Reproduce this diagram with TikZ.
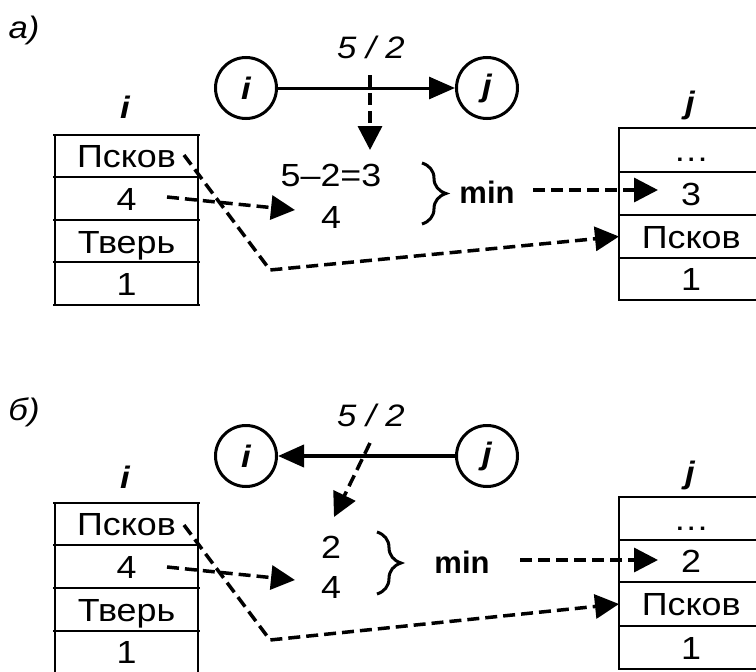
\documentclass[tikz,border=0pt]{standalone}
\usepackage{fontspec}
\setmainfont[FakeStretch=1.12]{Liberation Sans}
\newfontfamily\plainfont{Liberation Sans}
\usetikzlibrary{arrows.meta,decorations.pathreplacing,calc}
\begin{document}
\begin{tikzpicture}[x=1pt,y=-1pt,
  txt/.style={font=\fontsize{32}{32}\selectfont, inner sep=0pt},
  ttxt/.style={font=\fontsize{32}{32}\selectfont, inner sep=0pt, text height=23pt, text depth=0pt},
  itxt/.style={font=\fontsize{31}{31}\selectfont\itshape, inner sep=0pt},
  bitxt/.style={font=\fontsize{31}{31}\selectfont\bfseries\itshape, inner sep=0pt},
  btxt/.style={font=\fontsize{31}{31}\selectfont\plainfont\bfseries, inner sep=0pt},
  circ/.style={circle, draw, line width=3pt, minimum size=61pt, inner sep=0pt, font=\fontsize{31}{31}\selectfont\bfseries\itshape},
  tline/.style={line width=2pt},
  mainarrow/.style={line width=3pt, -{Triangle[length=26pt,width=22pt]}},
  dasharrow/.style={line width=3.5pt, dash pattern=on 12pt off 6pt, -{Triangle[length=24pt,width=24pt]}},
  bracestyle/.style={line width=3pt, decorate, decoration={brace, amplitude=24pt, aspect=0.5}},
  lcell/.style={ttxt, minimum width=147pt, minimum height=42.5pt},
  rcell/.style={ttxt, minimum width=144pt, minimum height=43pt}
]
\useasboundingbox (0,0) rectangle (756,672);

% ================= part a =================
\node[itxt] (la) at (24,30) {а)};
\node[circ] (ai) at (246,88) {i};
\node[circ] (aj) at (487,88) {j};
\draw[mainarrow] (ai) -- (aj);
\node[itxt] (aw) at (371,47) {5 / 2};
\node[txt] (ad) at (331,175) {5–2=3};
\node[txt] (am4) at (331,217) {4};
\coordinate (aws) at (370,75);
\coordinate (adt) at (370,150);
\draw[dasharrow] (aws) -- (adt);

% left table a
\node[bitxt] (ali) at (125,107) {i};
\draw[tline] (53,135) -- (200,135) (53,177) -- (200,177) (53,220) -- (200,220)
  (53,262) -- (200,262) (53,305) -- (200,305) (55,135) -- (55,305) (198,135) -- (198,305);
\node[lcell] (alPs) at (126.5,156) {Псков};
\node[lcell] (al4) at (126.5,198.5) {4};
\node[lcell] (alTv) at (126.5,242) {Тверь};
\node[lcell] (al1) at (126.5,283.5) {1};

% right table a
\node[bitxt] (arj) at (690,105) {j};
\draw[tline] (618,128) -- (756,128) (618,172) -- (756,172) (618,215) -- (756,215)
  (618,258) -- (756,258) (618,300) -- (756,300) (619,128) -- (619,300);
\node[rcell, anchor=west] (ardots) at (619,150) {…};
\node[rcell, anchor=west] (ar3) at (619,193.5) {3};
\node[rcell, anchor=west] (arPs) at (619,236.5) {Псков};
\node[rcell, anchor=west] (ar1) at (619,279) {1};

% brace and min a
\draw[bracestyle] (422,163) -- (422,224);
\node[btxt] (amin) at (487,192) {min};
\coordinate (amins) at (533,190);
\coordinate (amint) at (658,190);
\draw[dasharrow] (amins) -- (amint);

% dashed connectors a
\coordinate (a4s) at (167,197);
\coordinate (a4t) at (295,210);
\draw[dasharrow] (a4s) -- (a4t);
\coordinate (aPss) at (184,155);
\coordinate (aPsc) at (270,270);
\draw[dasharrow] (aPss) -- (aPsc) -- (arPs.west);

% ================= part b =================
\node[itxt] (lb) at (24,412) {б)};
\node[circ] (bi) at (246,456) {i};
\node[circ] (bj) at (487,456) {j};
\draw[mainarrow, line width=4pt] (bj) -- (bi);
\node[itxt] (bw) at (371,415) {5 / 2};
\node[txt] (bd) at (331,547) {2};
\node[txt] (bm4) at (331,587) {4};
\coordinate (bws) at (370,443);
\coordinate (bdt) at (334,517);
\draw[dasharrow] (bws) -- (bdt);

% left table b
\node[bitxt] (bli) at (125,477) {i};
\draw[tline] (53,503) -- (200,503) (53,545) -- (200,545) (53,588) -- (200,588)
  (53,631) -- (200,631) (55,503) -- (55,672) (198,503) -- (198,672);
\node[lcell] (blPs) at (126.5,524) {Псков};
\node[lcell] (bl4) at (126.5,566.5) {4};
\node[lcell] (blTv) at (126.5,610) {Тверь};
\node[lcell] (bl1) at (126.5,652) {1};

% right table b
\node[bitxt] (brj) at (690,475) {j};
\draw[tline] (618,497) -- (756,497) (618,540) -- (756,540) (618,582) -- (756,582)
  (618,626) -- (756,626) (618,669) -- (756,669) (619,497) -- (619,669);
\node[rcell, anchor=west] (brdots) at (619,518.5) {…};
\node[rcell, anchor=west] (br2) at (619,561) {2};
\node[rcell, anchor=west] (brPs) at (619,604) {Псков};
\node[rcell, anchor=west] (br1) at (619,647.5) {1};

% brace and min b
\draw[bracestyle] (377,532) -- (377,594);
\node[btxt] (bmin) at (462,562) {min};
\coordinate (bmins) at (520,560);
\coordinate (bmint) at (658,560);
\draw[dasharrow] (bmins) -- (bmint);

% dashed connectors b
\coordinate (b4s) at (167,567);
\coordinate (b4t) at (295,580);
\draw[dasharrow] (b4s) -- (b4t);
\coordinate (bPss) at (184,525);
\coordinate (bPsc) at (270,640);
\draw[dasharrow] (bPss) -- (bPsc) -- (brPs.west);
\end{tikzpicture}
\end{document}
